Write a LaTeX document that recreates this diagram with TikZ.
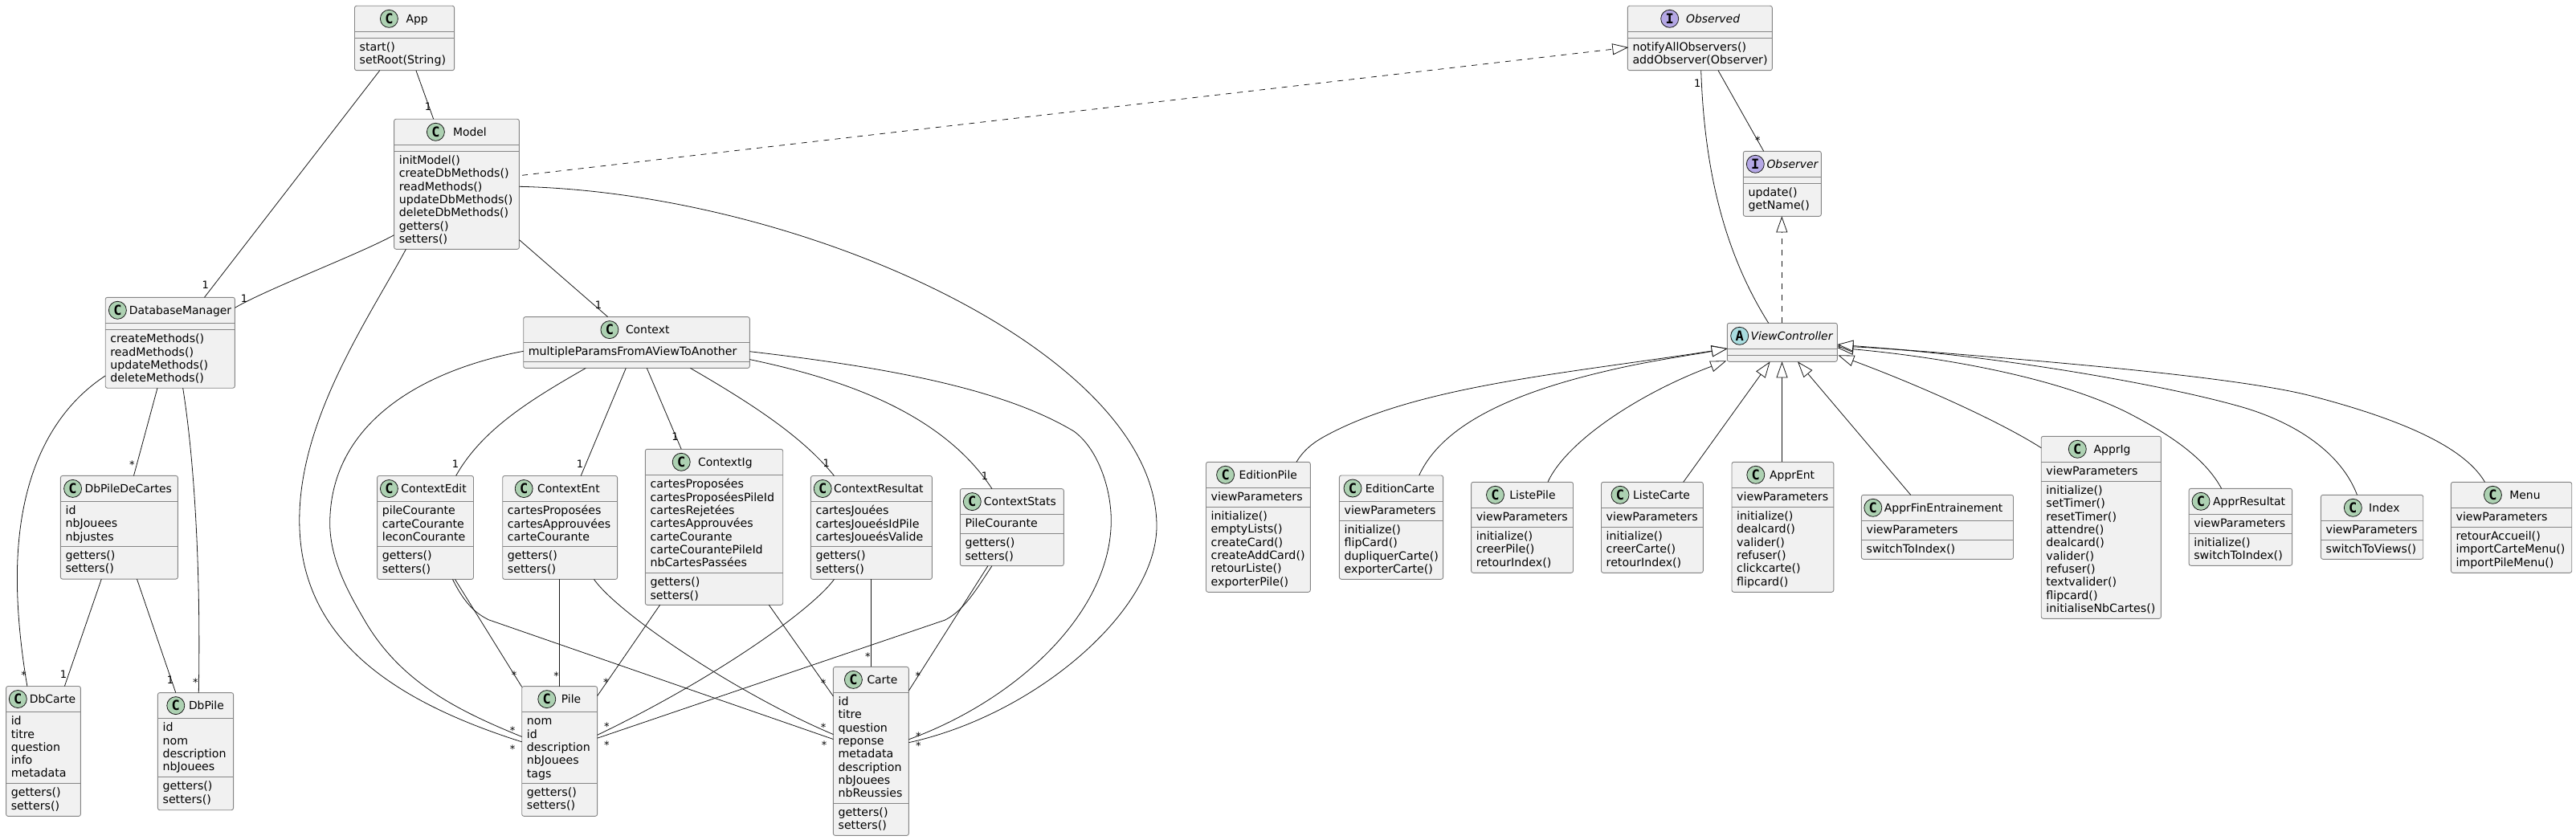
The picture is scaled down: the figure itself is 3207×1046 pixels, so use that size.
\documentclass[tikz,border=0pt]{standalone}
\usepackage{fontspec}
\setmainfont{DejaVu Sans}
\newfontfamily\spotfont{DejaVu Sans Mono}
\usetikzlibrary{arrows.meta}
\definecolor{boxfill}{HTML}{F1F1F1}
\definecolor{ink}{HTML}{181818}
\definecolor{rim}{HTML}{858585}
\definecolor{spotC}{HTML}{ADD1B2}
\definecolor{spotI}{HTML}{B4A7E5}
\definecolor{spotA}{HTML}{A9DCDF}
\tikzset{
  classbox/.style={draw=rim,fill=boxfill,line width=.9pt,rounded corners=2.5pt,inner sep=0pt,outer sep=0pt},
  sepline/.style={draw=rim,line width=.9pt},
  spot/.style={circle,draw=ink,line width=.8pt,minimum size=22pt,inner sep=0pt,font=\spotfont\bfseries\fontsize{17}{17}\selectfont},
  titletext/.style={anchor=base west,inner sep=0pt,font=\fontsize{13.9}{16}\selectfont,text=black},
  rowtext/.style={anchor=base west,inner sep=0pt,font=\fontsize{14.2}{16}\selectfont,text=black},
  assoc/.style={draw=ink,line width=.8pt},
  realize/.style={draw=ink,line width=.8pt,dash pattern=on 7pt off 7pt,-{Triangle[length=20pt,width=14pt,fill=white]}},
  inherit/.style={draw=ink,line width=.8pt,-{Triangle[length=20pt,width=14pt,fill=white]}},
  multone/.style={anchor=base,inner sep=0pt,yshift=-4.7pt,font=\fontsize{13}{13}\selectfont,text=black},
  multstar/.style={anchor=base,inner sep=0pt,yshift=-7.7pt,font=\fontsize{13}{13}\selectfont,text=black},
}
\newcommand\cls[5]{%
  \pgfmathsetmacro\cw{#4-#2}\pgfmathsetmacro\ch{#5-#3}%
  \node[classbox,minimum width=\cw pt,minimum height=\ch pt,anchor=north west] (#1) at (#2,#3) {};%
  \gdef\curname{#1}\gdef\curx{#2}\gdef\curX{#4}\gdef\cury{#3}}
\newcommand\head[5]{%
  \node[spot,fill=spot#1] (\curname-spot) at (#2,\cury+16) {#1};%
  \node[titletext] (\curname-title) at (#3,\cury+21) {#4#5};}
\newcommand\sepat[1]{\draw[sepline] (\curx,#1) -- (\curX,#1);}
\newcommand\rows[3]{%
  \sepat{#2}%
  \foreach \t [count=\i from 0] in {#3} {%
    \node[rowtext] (\curname-#1\i) at (\curx+6,#2+16.3+\i*16.3) {\t};}}
\begin{document}
\begin{tikzpicture}[x=1pt,y=-1pt]
\useasboundingbox (0,0) rectangle (3207,1046);
% ---------- classes ----------
\cls{App}{441.5}{7.3}{565.6}{87.7}\head{C}{484.4}{505.4}{}{App}
\sepat{39.3}\rows{m}{47.3}{start(),setRoot(String)}
\cls{Model}{490.6}{148.3}{646.4}{310.3}\head{C}{542.4}{563.8}{}{Model}
\sepat{180.3}\rows{m}{188.3}{initModel(),createDbMethods(),readMethods(),updateDbMethods(),deleteDbMethods(),getters(),setters()}
\cls{DatabaseManager}{131.2}{370.3}{292.4}{483.2}\head{C}{146.4}{160.7}{}{DatabaseManager}
\sepat{402}\rows{m}{410.6}{createMethods(),readMethods(),updateMethods(),deleteMethods()}
\cls{DbPileDeCartes}{75.4}{592.4}{221.4}{721.1}\head{C}{90.6}{105.4}{}{DbPileDeCartes}
\rows{a}{624.3}{id,nbJouees,nbjustes}\rows{m}{680.3}{getters(),setters()}
\cls{DbCarte}{7.6}{854.5}{100.4}{1016.4}\head{C}{22.3}{36.6}{}{DbCarte}
\rows{a}{886.4}{id,titre,question,info,metadata}\rows{m}{975.6}{getters(),setters()}
\cls{DbPile}{196.4}{862.6}{290.6}{1008.7}\head{C}{218.8}{234.8}{}{DbPile}
\rows{a}{894.4}{id,nom,description,nbJouees}\rows{m}{967.5}{getters(),setters()}
\cls{Context}{651.7}{394.6}{933.3}{458.4}\head{C}{758.9}{778.8}{}{Context}
\rows{a}{426.5}{multipleParamsFromAViewToAnother}\sepat{450.6}
\cls{ContextEdit}{469.6}{592.5}{589.5}{721.4}\head{C}{484.4}{499.2}{}{ContextEdit}
\rows{a}{624.4}{pileCourante,carteCourante,leconCourante}\rows{m}{680.4}{getters(),setters()}
\cls{ContextEnt}{625.7}{592.5}{768.6}{721.4}\head{C}{652.2}{669}{}{ContextEnt}
\rows{a}{624.4}{cartesProposées,cartesApprouvées,carteCourante}\rows{m}{680.4}{getters(),setters()}
\cls{ContextIg}{803.3}{559.3}{974.7}{753.3}\head{C}{848.2}{869}{}{ContextIg}
\rows{a}{591.6}{cartesProposées,cartesProposéesPileId,cartesRejetées,cartesApprouvées,carteCourante,carteCourantePileId,nbCartesPassées}\rows{m}{713.6}{getters(),setters()}
\cls{ContextResultat}{1009.4}{592.5}{1160.4}{721.4}\head{C}{1024.2}{1038}{}{ContextResultat}
\rows{a}{624.4}{cartesJouées,cartesJoueésIdPile,cartesJoueésValide}\rows{m}{680.4}{getters(),setters()}
\cls{ContextStats}{1195.3}{608.6}{1324.3}{704.6}\head{C}{1210.3}{1224.7}{}{ContextStats}
\rows{a}{640.6}{PileCourante}\rows{m}{664.4}{getters(),setters()}
\cls{Pile}{649.7}{854.6}{743.6}{1016.3}\head{C}{680.8}{698.7}{}{Pile}
\rows{a}{886.5}{nom,id,description,nbJouees,tags}\rows{m}{975.3}{getters(),setters()}
\cls{Carte}{1037.4}{830.4}{1131.3}{1040.4}\head{C}{1062.4}{1079.3}{}{Carte}
\rows{a}{862.3}{id,titre,question,reponse,metadata,description,nbJouees,nbReussies}\rows{m}{1000.3}{getters(),setters()}
\cls{Observed}{2026.3}{7.3}{2206.3}{87.7}\head{I}{2078.7}{2099}{\itshape}{Observed}
\sepat{39.3}\rows{m}{47.3}{notifyAllObservers(),addObserver(Observer)}
\cls{Observer}{2170.3}{188.3}{2267.3}{269.3}\head{I}{2185.3}{2199.3}{\itshape}{Observer}
\sepat{220.3}\rows{m}{228.3}{update(),getName()}
\cls{ViewController}{2150.3}{402.3}{2287.3}{450.3}\head{A}{2165.7}{2179.3}{\itshape}{ViewController}
\sepat{434.3}\sepat{442.3}
\cls{EditionPile}{1501.5}{575.3}{1631.3}{737.3}\head{C}{1525.6}{1542.3}{}{EditionPile}
\rows{a}{607.3}{viewParameters}\rows{m}{631.3}{initialize(),emptyLists(),createCard(),createAddCard(),retourListe(),exporterPile()}
\cls{EditionCarte}{1667.4}{592}{1796.6}{721.3}\head{C}{1684}{1699.6}{}{EditionCarte}
\rows{a}{624.3}{viewParameters}\rows{m}{648.3}{initialize(),flipCard(),dupliquerCarte(),exporterCarte()}
\cls{ListePile}{1831.6}{600.3}{1958.5}{713.3}\head{C}{1861.5}{1879.2}{}{ListePile}
\rows{a}{632.3}{viewParameters}\rows{m}{656.3}{initialize(),creerPile(),retourIndex()}
\cls{ListeCarte}{1993.5}{600.3}{2120.3}{713.3}\head{C}{2017}{2033}{}{ListeCarte}
\rows{a}{632.3}{viewParameters}\rows{m}{656.3}{initialize(),creerCarte(),retourIndex()}
\cls{ApprEnt}{2156}{575.3}{2282.8}{737.3}\head{C}{2185.8}{2203}{}{ApprEnt}
\rows{a}{607.3}{viewParameters}\rows{m}{631.3}{initialize(),dealcard(),valider(),refuser(),clickcarte(),flipcard()}
\cls{ApprFinEntrainement}{2317.4}{616.3}{2506.5}{696.3}\head{C}{2331.8}{2345.7}{}{ApprFinEntrainement}
\rows{a}{648.3}{viewParameters}\rows{m}{672.3}{switchToIndex()}
\cls{ApprIg}{2541.2}{543.3}{2690.4}{770.3}\head{C}{2586.3}{2606.5}{}{ApprIg}
\rows{a}{575.3}{viewParameters}\rows{m}{599.3}{initialize(),setTimer(),resetTimer(),attendre(),dealcard(),valider(),refuser(),textvalider(),flipcard(),initialiseNbCartes()}
\cls{ApprResultat}{2725.1}{608.3}{2853.6}{704.3}\head{C}{2740}{2755}{}{ApprResultat}
\rows{a}{640.3}{viewParameters}\rows{m}{664.3}{initialize(),switchToIndex()}
\cls{Index}{2889.4}{616.3}{3016.7}{696.3}\head{C}{2929.3}{2949}{}{Index}
\rows{a}{648.3}{viewParameters}\rows{m}{672.3}{switchToViews()}
\cls{Menu}{3051.4}{600.3}{3201.7}{713.3}\head{C}{3103.4}{3124.2}{}{Menu}
\rows{a}{632.3}{viewParameters}\rows{m}{656.3}{retourAccueil(),importCarteMenu(),importPileMenu()}
% ---------- associations ----------
\draw[assoc] ([shift={(31.3,0)}]App.south west) -- ([shift={(123.3,0)}]DatabaseManager.north west);
\draw[assoc] ([shift={(76.4,0)}]App.south west) -- ([shift={(49.1,0)}]Model.north west);
\draw[assoc] ([shift={(0,144.4)}]Model.north west) .. controls (446,317) and (332,360) .. ([shift={(0,13)}]DatabaseManager.north east);
\draw[assoc] ([shift={(14.8,0)}]Model.south west) .. controls (460,395) and (372.8,520) .. (372.8,647.6) .. controls (372.8,790) and (480,870) .. ([shift={(0,69.2)}]Pile.north west);
\draw[assoc] ([shift={(0,-11.7)}]Model.south east) -- ([shift={(105,0)}]Context.north west);
\draw[assoc] ([shift={(0,84)}]Model.north east) .. controls (1000,240) and (1440,440) .. (1440,655) .. controls (1440,760) and (1290,890) .. ([shift={(0,94.3)}]Carte.north east);
\draw[realize] ([shift={(3.6,70)}]Model.north east) -- ([shift={(1,51.7)}]Observed.north west);
\draw[assoc] ([shift={(0,42.7)}]Context.north west) .. controls (520,462) and (410.7,530) .. (410.7,651.9) .. controls (410.7,700) and (438,745) .. (455.4,775) .. controls (500,850) and (570,885) .. ([shift={(0,62.8)}]Pile.north west);
\draw[assoc] ([shift={(77.6,0)}]Context.south west) .. controls (660,498) and (600,535) .. ([shift={(98,0)}]ContextEdit.north west);
\draw[assoc] ([shift={(127.6,0)}]Context.south west) -- ([shift={(97.5,0)}]ContextEnt.north west);
\draw[assoc] ([shift={(153.6,0)}]Context.south west) -- ([shift={(44.9,0)}]ContextIg.north west);
\draw[assoc] ([shift={(207.7,0)}]Context.south west) .. controls (940,505) and (1000,545) .. ([shift={(29.1,0)}]ContextResultat.north west);
\draw[assoc] ([shift={(0,53)}]Context.north east) .. controls (1040,470) and (1170,510) .. ([shift={(39.7,0)}]ContextStats.north west);
\draw[assoc] ([shift={(0,43.1)}]Context.north east) .. controls (1110,458) and (1250,485) .. (1336.7,536.9) .. controls (1365,557) and (1383.3,605) .. (1383.3,648.4) .. controls (1383.3,760) and (1270,870) .. ([shift={(0,90.4)}]Carte.north east);
\draw[assoc] ([shift={(0,97.6)}]DatabaseManager.north west) .. controls (90,495) and (21.4,560) .. (21.4,720) .. controls (21.4,770) and (28,820) .. ([shift={(26.3,0)}]DbCarte.north west);
\draw[assoc] ([shift={(64.8,0)}]DatabaseManager.south west) -- ([shift={(91.1,0)}]DbPileDeCartes.north west);
\draw[assoc] ([shift={(96.5,0)}]DatabaseManager.south west) .. controls (243,580) and (250,720) .. ([shift={(50.9,0)}]DbPile.north west);
\draw[assoc] ([shift={(50.9,0)}]DbPileDeCartes.south west) -- ([shift={(72.8,0)}]DbCarte.north west);
\draw[assoc] ([shift={(95.1,0)}]DbPileDeCartes.south west) -- ([shift={(22.4,0)}]DbPile.north west);
\draw[assoc] ([shift={(96.9,0)}]ContextEdit.south west) -- ([shift={(0,0.8)}]Pile.north west);
\draw[assoc] ([shift={(93.9,0)}]ContextEdit.south west) .. controls (580,755) and (595,765) .. (608.4,771.8) -- ([shift={(0,90.1)}]Carte.north west);
\draw[assoc] ([shift={(70.9,0)}]ContextEnt.south west) -- ([shift={(46.9,0)}]Pile.north west);
\draw[assoc] ([shift={(113.8,0)}]ContextEnt.south west) .. controls (770,765) and (920,865) .. ([shift={(0,84.1)}]Carte.north west);
\draw[assoc] ([shift={(18.3,0)}]ContextIg.south west) -- ([shift={(0,12)}]Pile.north east);
\draw[assoc] ([shift={(154,0)}]ContextIg.south west) -- ([shift={(0,36.6)}]Carte.north west);
\draw[assoc] ([shift={(29.1,0)}]ContextResultat.south west) .. controls (1010,760) and (890,845) .. ([shift={(0,60.7)}]Pile.north east);
\draw[assoc] ([shift={(75,0)}]ContextResultat.south west) -- ([shift={(47,0)}]Carte.north west);
\draw[assoc] ([shift={(39.7,0)}]ContextStats.south west) .. controls (1215,735) and (1200,760) .. (1176.7,772) -- ([shift={(0,64.6)}]Pile.north east);
\draw[assoc] ([shift={(34.7,0)}]ContextStats.south west) -- ([shift={(0,29.8)}]Carte.north east);
\draw[assoc] ([shift={(91.4,0)}]Observed.south west) .. controls (2122,220) and (2150,320) .. ([shift={(51.4,0)}]ViewController.north west);
\draw[assoc] ([shift={(112.7,0)}]Observed.south west) -- ([shift={(25.4,0)}]Observer.north west);
\draw[realize] ([shift={(68,0)}]ViewController.north west) -- ([shift={(48,0)}]Observer.south west);
% ---------- inheritance ----------
\draw[inherit] ([shift={(112.5,0)}]EditionPile.north west) .. controls (1625,557) and (1640,548) .. (1655.4,540) .. controls (1770,480) and (1950,465) .. ([shift={(0.4,31.7)}]ViewController.north west);
\draw[inherit] ([shift={(99.3,0)}]EditionCarte.north west) .. controls (1795,530) and (1880,490) .. (2000,462) .. controls (2050,450) and (2100,443) .. ([shift={(0.4,31.7)}]ViewController.north west);
\draw[inherit] ([shift={(95.3,0)}]ListePile.north west) .. controls (1950,550) and (2040,490) .. ([shift={(-1,47)}]ViewController.north west);
\draw[inherit] ([shift={(102.2,0)}]ListeCarte.north west) -- ([shift={(53.3,0)}]ViewController.south west);
\draw[inherit] ([shift={(62.5,0)}]ApprEnt.north west) -- ([shift={(68.2,0)}]ViewController.south west);
\draw[inherit] ([shift={(61.3,0)}]ApprFinEntrainement.north west) -- ([shift={(87.7,0)}]ViewController.south west);
\draw[inherit] ([shift={(0,14.4)}]ApprIg.north west) .. controls (2490,525) and (2390,480) .. ([shift={(1,40)}]ViewController.north east);
\draw[inherit] ([shift={(40.5,0)}]ApprResultat.north west) .. controls (2745,570) and (2700,540) .. (2647,513) .. controls (2560,470) and (2420,445) .. ([shift={(0,30.7)}]ViewController.north east);
\draw[inherit] ([shift={(45.1,0)}]Index.north west) .. controls (2915,565) and (2860,527) .. (2791.6,507) .. controls (2680,475) and (2450,438) .. ([shift={(0,28.7)}]ViewController.north east);
\draw[inherit] ([shift={(42.1,0)}]Menu.north west) .. controls (3070,560) and (3000,525) .. (2878.4,493.3) .. controls (2778,467) and (2500,446) .. ([shift={(0,26.7)}]ViewController.north east);
% ---------- multiplicities ----------
\node[multone] (o1) at (255.8,355) {1};
\node[multone] (o2) at (533,132.7) {1};
\node[multone] (o3) at (304,371.7) {1};
\node[multone] (o4) at (745,380) {1};
\node[multone] (o5) at (567,577.4) {1};
\node[multone] (o6) at (722,577.4) {1};
\node[multone] (o7) at (840.5,544.2) {1};
\node[multone] (o8) at (1028.8,577) {1};
\node[multone] (o9) at (1226,592.7) {1};
\node[multone] (o10) at (79,839.6) {1};
\node[multone] (o11) at (212,846.9) {1};
\node[multone] (o12) at (2113.3,104) {1};
\node[multstar] (s1) at (638,906.7) {*};
\node[multstar] (s2) at (638,930) {*};
\node[multstar] (s3) at (29.5,838) {*};
\node[multstar] (s4) at (164.3,575.8) {*};
\node[multstar] (s5) at (243.3,846.9) {*};
\node[multstar] (s6) at (640,838) {*};
\node[multstar] (s7) at (1026.2,924.9) {*};
\node[multstar] (s8) at (692.6,838.7) {*};
\node[multstar] (s9) at (1025.2,902.9) {*};
\node[multstar] (s10) at (754.3,846.7) {*};
\node[multstar] (s11) at (1025.2,847.6) {*};
\node[multstar] (s12) at (755.3,902) {*};
\node[multstar] (s13) at (755.3,924.3) {*};
\node[multstar] (s14) at (1080.3,814.4) {*};
\node[multstar] (s15) at (1142.8,839) {*};
\node[multstar] (s16) at (1143.3,914) {*};
\node[multstar] (s17) at (1143.3,925.6) {*};
\node[multstar] (s18) at (2188.3,171.7) {*};
\end{tikzpicture}
\end{document}
